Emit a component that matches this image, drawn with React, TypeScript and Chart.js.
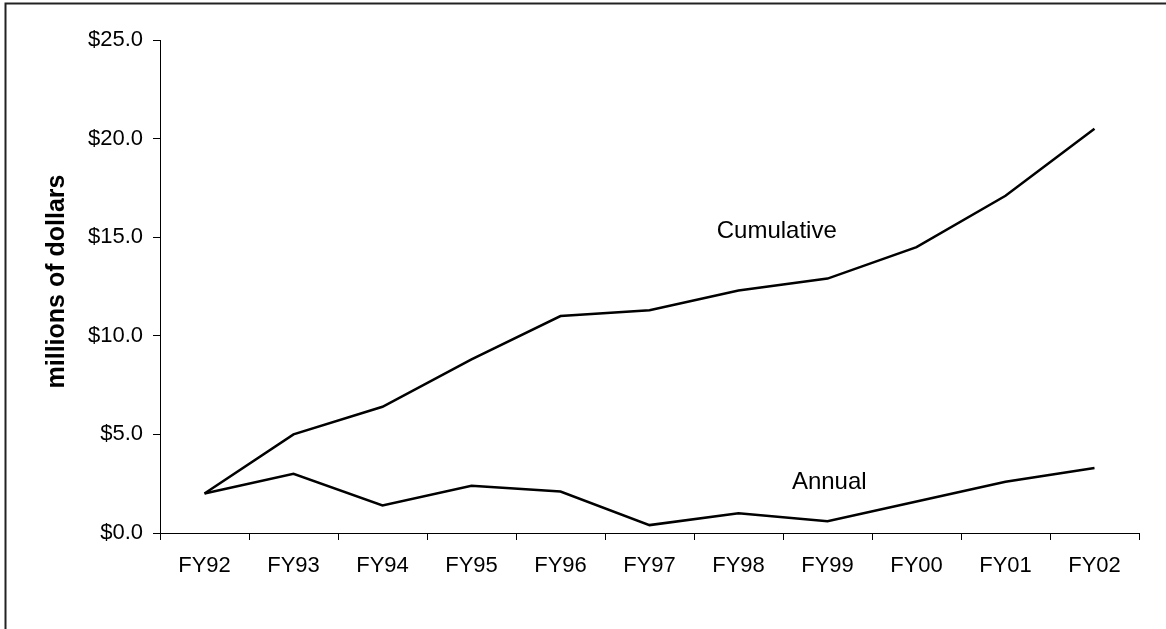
import React, { useEffect, useRef } from "react";
import { Chart, registerables } from "chart.js";

Chart.register(...registerables);

const categories = ["FY92", "FY93", "FY94", "FY95", "FY96", "FY97", "FY98", "FY99", "FY00", "FY01", "FY02"];
const cumulative = [2.0, 5.0, 6.4, 8.8, 11.0, 11.3, 12.3, 12.9, 14.5, 17.1, 20.5];
const annual = [2.0, 3.0, 1.4, 2.4, 2.1, 0.4, 1.0, 0.6, 1.6, 2.6, 3.3];
const yTitle = "millions of dollars";
const labelCumulative = { text: "Cumulative", x: 6.43, y: 15.3 };
const labelAnnual = { text: "Annual", x: 7.02, y: 2.55 };

const W = 1166;
const H = 629;
const FONT = "'Liberation Sans', Arial, sans-serif";

export default function App() {
  const ref = useRef<HTMLCanvasElement | null>(null);

  useEffect(() => {
    if (!ref.current) return;
    const overlay = {
      id: "overlay",
      afterDraw(chart: any) {
        const ctx = chart.ctx;
        const xs = chart.scales.x;
        const ys = chart.scales.y;
        ctx.save();
        // frame
        ctx.strokeStyle = "#222";
        ctx.lineWidth = 2;
        ctx.beginPath();
        ctx.moveTo(W + 2, 3.5);
        ctx.lineTo(5.5, 3.5);
        ctx.lineTo(5.5, H + 2);
        ctx.stroke();
        // annotations
        ctx.fillStyle = "#000";
        ctx.font = `24px ${FONT}`;
        ctx.textAlign = "center";
        ctx.textBaseline = "middle";
        for (const l of [labelCumulative, labelAnnual]) {
          ctx.fillText(l.text, xs.getPixelForValue(l.x), ys.getPixelForValue(l.y));
        }
        // y title
        ctx.font = `bold 25px ${FONT}`;
        ctx.textBaseline = "alphabetic";
        ctx.translate(64, (chart.chartArea.top + chart.chartArea.bottom) / 2 - 5);
        ctx.rotate(-Math.PI / 2);
        ctx.fillText(yTitle, 0, 0);
        ctx.restore();
      },
    };

    const chart = new Chart(ref.current, {
      type: "line",
      data: {
        labels: categories,
        datasets: [
          {
            label: "Cumulative",
            data: cumulative,
            borderColor: "#000",
            borderWidth: 2.5,
            pointRadius: 0,
            tension: 0,
            fill: false,
          },
          {
            label: "Annual",
            data: annual,
            borderColor: "#000",
            borderWidth: 2.5,
            pointRadius: 0,
            tension: 0,
            fill: false,
          },
        ],
      },
      options: {
        responsive: false,
        animation: false,
        layout: { padding: { left: 0, top: 40, right: 27, bottom: 0 } },
        plugins: {
          legend: { display: false },
          tooltip: { enabled: false },
          title: { display: false },
        },
        scales: {
          x: {
            type: "category",
            offset: true,
            grid: {
              display: true,
              offset: true,
              drawOnChartArea: false,
              drawTicks: true,
              tickLength: 7,
              color: "#000",
              lineWidth: 1,
            },
            border: { display: true, color: "#000", width: 1 },
            ticks: {
              color: "#000",
              font: { family: FONT, size: 22 },
              padding: 13,
              maxRotation: 0,
              autoSkip: false,
            },
            afterFit(scale: any) {
              scale.height = H - 533;
            },
          },
          y: {
            min: 0,
            max: 25,
            grid: {
              display: true,
              drawOnChartArea: false,
              drawTicks: true,
              tickLength: 7,
              color: "#000",
              lineWidth: 1,
            },
            border: { display: true, color: "#000", width: 1 },
            ticks: {
              stepSize: 5,
              color: "#000",
              font: { family: FONT, size: 22 },
              padding: 10,
              callback: (v: any) => "$" + Number(v).toFixed(1),
            },
            afterFit(scale: any) {
              scale.width = 160;
            },
          },
        },
      },
      plugins: [overlay],
    });
    return () => chart.destroy();
  }, []);

  return (
    <div style={{ position: "fixed", left: 0, top: 0, width: W, height: H, background: "#fff" }}>
      <canvas ref={ref} width={W} height={H} style={{ display: "block", width: W, height: H }} />
    </div>
  );
}
